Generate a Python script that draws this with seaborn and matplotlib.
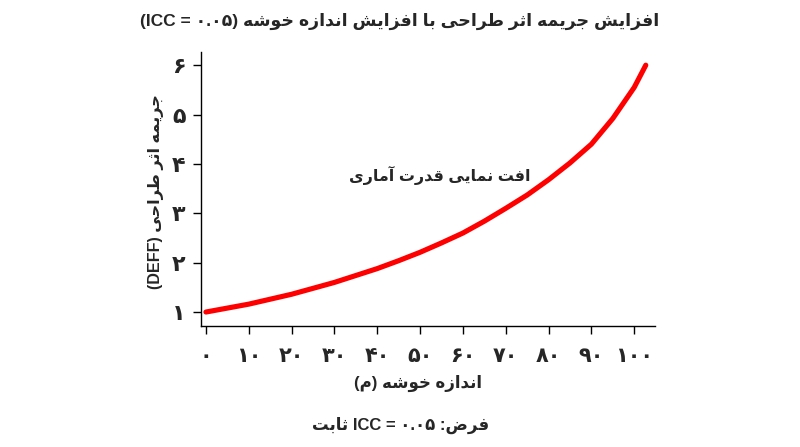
import numpy as np
import pandas as pd
import matplotlib
matplotlib.use('Agg')
import matplotlib.pyplot as plt
import seaborn as sns

## Données

cluster_size = [0, 5, 10, 15, 20, 25, 30, 35, 40, 45, 50, 55, 60, 65, 70, 75, 80, 85, 90, 95, 100, 102.7]
deff = [1.00, 1.08, 1.16, 1.26, 1.36, 1.48, 1.60, 1.74, 1.88, 2.04, 2.21, 2.40, 2.60, 2.84,
        3.10, 3.37, 3.68, 4.02, 4.40, 4.92, 5.55, 6.00]

x_ticks = [0, 10, 20, 30, 40, 50, 60, 70, 80, 90, 100]
x_tick_labels = ['۰', '۱۰', '۲۰', '۳۰', '۴۰', '۵۰', '۶۰', '۷۰', '۸۰', '۹۰', '۱۰۰']
y_ticks = [1, 2, 3, 4, 5, 6]
y_tick_labels = ['۱', '۲', '۳', '۴', '۵', '۶']

title = 'افزایش جریمه اثر طراحی با افزایش اندازه خوشه (ICC = ۰.۰۵)'
x_label = 'اندازه خوشه (م)'
y_label = 'جریمه اثر طراحی (DEFF)'
note = 'افت نمایی قدرت آماری'
footer = 'فرض: ICC = ۰.۰۵ ثابت'

## Mise en forme du texte persan (matplotlib ne fait pas le shaping)

FORMS = {
    'ا': (0xFE8D, 0xFE8E), 'آ': (0xFE81, 0xFE82), 'د': (0xFEA9, 0xFEAA),
    'ر': (0xFEAD, 0xFEAE), 'ز': (0xFEAF, 0xFEB0), 'و': (0xFEED, 0xFEEE),
    'ب': (0xFE8F, 0xFE90, 0xFE91, 0xFE92), 'ت': (0xFE95, 0xFE96, 0xFE97, 0xFE98),
    'ث': (0xFE99, 0xFE9A, 0xFE9B, 0xFE9C), 'ج': (0xFE9D, 0xFE9E, 0xFE9F, 0xFEA0),
    'ح': (0xFEA1, 0xFEA2, 0xFEA3, 0xFEA4), 'خ': (0xFEA5, 0xFEA6, 0xFEA7, 0xFEA8),
    'ش': (0xFEB5, 0xFEB6, 0xFEB7, 0xFEB8), 'ض': (0xFEBD, 0xFEBE, 0xFEBF, 0xFEC0),
    'ط': (0xFEC1, 0xFEC2, 0xFEC3, 0xFEC4), 'ف': (0xFED1, 0xFED2, 0xFED3, 0xFED4),
    'ق': (0xFED5, 0xFED6, 0xFED7, 0xFED8), 'م': (0xFEE1, 0xFEE2, 0xFEE3, 0xFEE4),
    'ن': (0xFEE5, 0xFEE6, 0xFEE7, 0xFEE8), 'ه': (0xFEE9, 0xFEEA, 0xFEEB, 0xFEEC),
    'ی': (0xFEEF, 0xFEF0, 0xFEF3, 0xFEF4),
}
MIRROR = {'(': ')', ')': '('}


def shape(s):
    out = []
    for i, c in enumerate(s):
        if c not in FORMS:
            out.append(c)
            continue
        f = FORMS[c]
        prev = i > 0 and s[i - 1] in FORMS and len(FORMS[s[i - 1]]) == 4
        nxt = i < len(s) - 1 and s[i + 1] in FORMS and len(f) == 4
        if prev and nxt:
            out.append(chr(f[3]))
        elif prev:
            out.append(chr(f[1]))
        elif nxt:
            out.append(chr(f[2]))
        else:
            out.append(chr(f[0]))
    return out


def rtl(s):
    chars = shape(s)
    kinds = []
    for c in s:
        if c in FORMS:
            kinds.append('R')
        elif (c.isascii() and c.isalnum()) or '\u06F0' <= c <= '\u06F9' or c == '.':
            kinds.append('L')
        else:
            kinds.append('N')
    # neutres entre deux L -> L, sinon R
    i = 0
    while i < len(kinds):
        if kinds[i] == 'N':
            j = i
            while j < len(kinds) and kinds[j] == 'N':
                j += 1
            left = kinds[i - 1] if i > 0 else 'R'
            right = kinds[j] if j < len(kinds) else 'R'
            k = 'L' if (left == 'L' and right == 'L') else 'R'
            for t in range(i, j):
                kinds[t] = k
            i = j
        else:
            i += 1
    runs = []
    for c, k in zip(chars, kinds):
        if runs and runs[-1][0] == k:
            runs[-1][1].append(c)
        else:
            runs.append([k, [c]])
    res = ''
    for k, cs in reversed(runs):
        if k == 'R':
            res += ''.join(MIRROR.get(c, c) for c in reversed(cs))
        else:
            res += ''.join(cs)
    return res


## Graphique

sns.set_style('ticks')
plt.rcParams['font.family'] = ['Liberation Sans', 'DejaVu Sans']
plt.rcParams['font.weight'] = 'bold'

df = pd.DataFrame({'m': cluster_size, 'deff': deff})

fig = plt.figure(figsize=(8, 4.47), dpi=100)
ax = fig.add_axes([0.251, 0.271, 0.568, 0.613])

sns.lineplot(data=df, x='m', y='deff', ax=ax, color='#ff0000', linewidth=3.7)

ax.set_xlim(-1.2, 104.9)
ax.set_ylim(0.72, 6.27)
ax.set_xticks(x_ticks)
ax.set_xticklabels(x_tick_labels, fontsize=15, fontweight='bold')
ax.set_yticks(y_ticks)
ax.set_yticklabels(y_tick_labels, fontsize=16, fontweight='bold')
ax.tick_params(axis='x', length=6, width=1, color='black', pad=9)
ax.tick_params(axis='y', length=6, width=1, color='black', pad=5)
for side in ['left', 'bottom']:
    ax.spines[side].set_color('black')
    ax.spines[side].set_linewidth(1)
sns.despine(ax=ax)

ax.set_xlabel(rtl(x_label), fontsize=12, fontweight='bold')
ax.xaxis.set_label_coords(0.478, -0.18)
ax.set_ylabel(rtl(y_label), fontsize=11.6, fontweight='bold')
ax.yaxis.set_label_coords(-0.082, 0.49)

ax.text(54.7, 3.77, rtl(note), ha='center', va='center', fontsize=11.5, fontweight='bold')

fig.text(0.5, 0.953, rtl(title), ha='center', va='center', fontsize=12.5, fontweight='bold')
fig.text(0.501, 0.049, rtl(footer), ha='center', va='center', fontsize=12, fontweight='bold')

plt.savefig('out.png', dpi=100)
